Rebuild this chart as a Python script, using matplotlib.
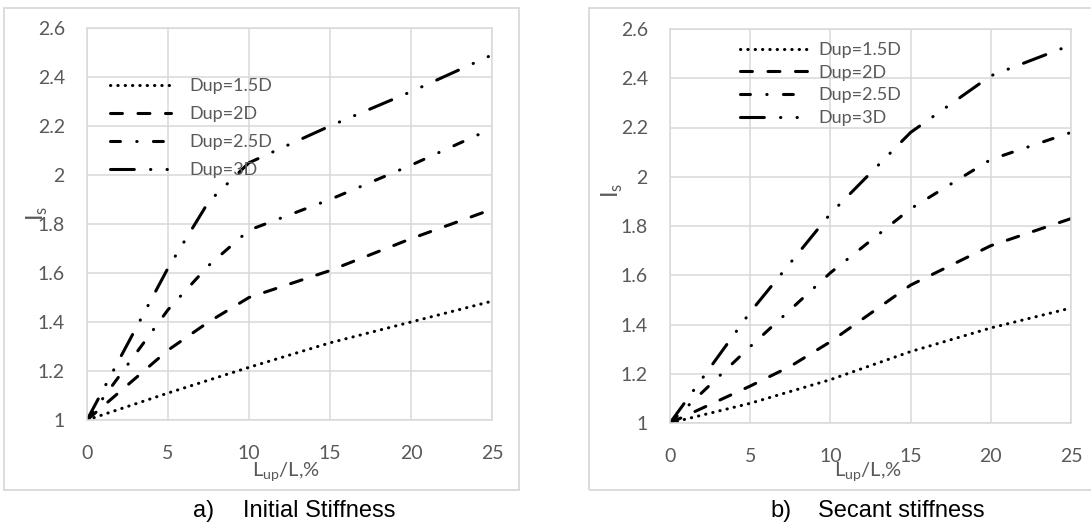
"""Stiffness ratio I_s against upper length ratio, two panels."""

import matplotlib
matplotlib.use('Agg')
import matplotlib.pyplot as plt
from matplotlib.patches import Rectangle

W, H = 1091, 522

# Panel a) initial stiffness
x_a_15 = [0, 5, 10, 15, 20, 25]
y_a_15 = [1, 1.11, 1.215, 1.315, 1.40, 1.485]
x_a_2 = [0, 5, 7.5, 10, 15, 20, 25]
y_a_2 = [1, 1.285, 1.40, 1.50, 1.61, 1.74, 1.86]
x_a_25 = [0, 5, 7.5, 10, 15, 20, 25]
y_a_25 = [1, 1.45, 1.63, 1.775, 1.90, 2.04, 2.19]
x_a_3 = [0, 5, 7.5, 10, 15, 20, 25]
y_a_3 = [1, 1.62, 1.89, 2.05, 2.20, 2.34, 2.49]

# Panel b) secant stiffness
x_b_15 = [0, 5, 10, 15, 20, 25]
y_b_15 = [1, 1.08, 1.176, 1.29, 1.386, 1.467]
x_b_2 = [0, 5, 7.5, 10, 15, 20, 25]
y_b_2 = [1, 1.15, 1.23, 1.33, 1.56, 1.72, 1.83]
x_b_25 = [0, 5, 10, 15, 20, 25]
y_b_25 = [1, 1.31, 1.61, 1.87, 2.07, 2.18]
x_b_3 = [0, 5, 10, 15, 20, 25]
y_b_3 = [1, 1.45, 1.85, 2.18, 2.41, 2.535]

labels = ['Dup=1.5D', 'Dup=2D', 'Dup=2.5D', 'Dup=3D']
xticks = [0, 5, 10, 15, 20, 25]
yticks = [1, 1.2, 1.4, 1.6, 1.8, 2, 2.2, 2.4, 2.6]

# dot, dash, dash-dot, long dash-dot-dot (units of line width)
styles = [(0, (0.1, 2.3)),
          (0, (3.9, 5.1)),
          (0, (3.25, 5.35, 0.1, 5.35)),
          (0, (7.8, 5.3, 0.1, 5.3, 0.1, 5.3))]

GRID = '#d9d9d9'
TXT = '#595959'
FONT = 'Lato'

fig = plt.figure(figsize=(W / 100, H / 100), dpi=100)


def px_axes(x0, x1, ytop, ybot):
    return fig.add_axes([x0 / W, 1 - ybot / H, (x1 - x0) / W, (ybot - ytop) / H])


# outer chart frames
fig.patches.append(Rectangle((4 / W, 1 - 490 / H), 515 / W, 482 / H, transform=fig.transFigure,
                             fill=False, edgecolor=GRID, lw=1.3))
fig.patches.append(Rectangle((589 / W, 1 - 490 / H), 520 / W, 482 / H, transform=fig.transFigure,
                             fill=False, edgecolor=GRID, lw=1.3))

ax_a = px_axes(87, 492, 28, 420)
ax_b = px_axes(670, 1071, 29, 423)

series_a = [(x_a_15, y_a_15), (x_a_2, y_a_2), (x_a_25, y_a_25), (x_a_3, y_a_3)]
series_b = [(x_b_15, y_b_15), (x_b_2, y_b_2), (x_b_25, y_b_25), (x_b_3, y_b_3)]

for ax, series in [(ax_a, series_a), (ax_b, series_b)]:
    for (xs, ys), ls, lab in zip(series, styles, labels):
        ax.plot(xs, ys, color='black', lw=2.2, linestyle=ls, dash_capstyle='round',
                solid_capstyle='round', label=lab)
    ax.set_xlim(0, 25)
    ax.set_ylim(1, 2.6)
    ax.set_xticks(xticks)
    ax.set_yticks(yticks)
    ax.set_yticklabels(['{:g}'.format(v) for v in yticks])
    ax.grid(True, color=GRID, lw=1.1)
    ax.set_axisbelow(True)
    for sp in ax.spines.values():
        sp.set_color(GRID)
        sp.set_linewidth(1.1)
    ax.tick_params(length=0, labelsize=14, labelcolor=TXT)
    ax.tick_params(axis='x', pad=18)
    ax.tick_params(axis='y', pad=16)
    for t in ax.get_xticklabels() + ax.get_yticklabels():
        t.set_fontfamily(FONT)

# legends
leg_a = ax_a.legend(loc='center left', bbox_to_anchor=(110 / W, 1 - 128 / H),
                    bbox_transform=fig.transFigure, frameon=False, borderpad=0,
                    borderaxespad=0, handlelength=3.4, handletextpad=1.0,
                    labelspacing=0.67, prop={'family': FONT, 'size': 13})
leg_b = ax_b.legend(loc='center left', bbox_to_anchor=(740 / W, 1 - 84 / H),
                    bbox_transform=fig.transFigure, frameon=False, borderpad=0,
                    borderaxespad=0, handlelength=3.8, handletextpad=0.55,
                    labelspacing=0.37, prop={'family': FONT, 'size': 13})
for leg in (leg_a, leg_b):
    for t in leg.get_texts():
        t.set_color(TXT)

# axis titles placed where the original has them
ylab = r'I$_\mathregular{s}$'
xlab = r'L$_\mathregular{up}$/L,%'
fig.text(37 / W, 1 - 213 / H, ylab, rotation=90, ha='center', va='center',
         fontsize=17, color=TXT, family=FONT)
fig.text(612 / W, 1 - 190 / H, ylab, rotation=90, ha='center', va='center',
         fontsize=17, color=TXT, family=FONT)
fig.text(286 / W, 1 - 472 / H, xlab, ha='center', va='center',
         fontsize=14.5, color=TXT, family=FONT)
fig.text(868 / W, 1 - 472 / H, xlab, ha='center', va='center',
         fontsize=14.5, color=TXT, family=FONT)

# captions
cap = {'fontsize': 17, 'color': 'black', 'family': 'Liberation Sans', 'va': 'baseline'}
fig.text(193 / W, 1 - 517 / H, 'a)', ha='left', **cap)
fig.text(243 / W, 1 - 517 / H, 'Initial Stiffness', ha='left', **cap)
fig.text(770 / W, 1 - 517 / H, 'b)', ha='left', **cap)
fig.text(818 / W, 1 - 517 / H, 'Secant stiffness', ha='left', **cap)

fig.savefig('out.png', dpi=100)
